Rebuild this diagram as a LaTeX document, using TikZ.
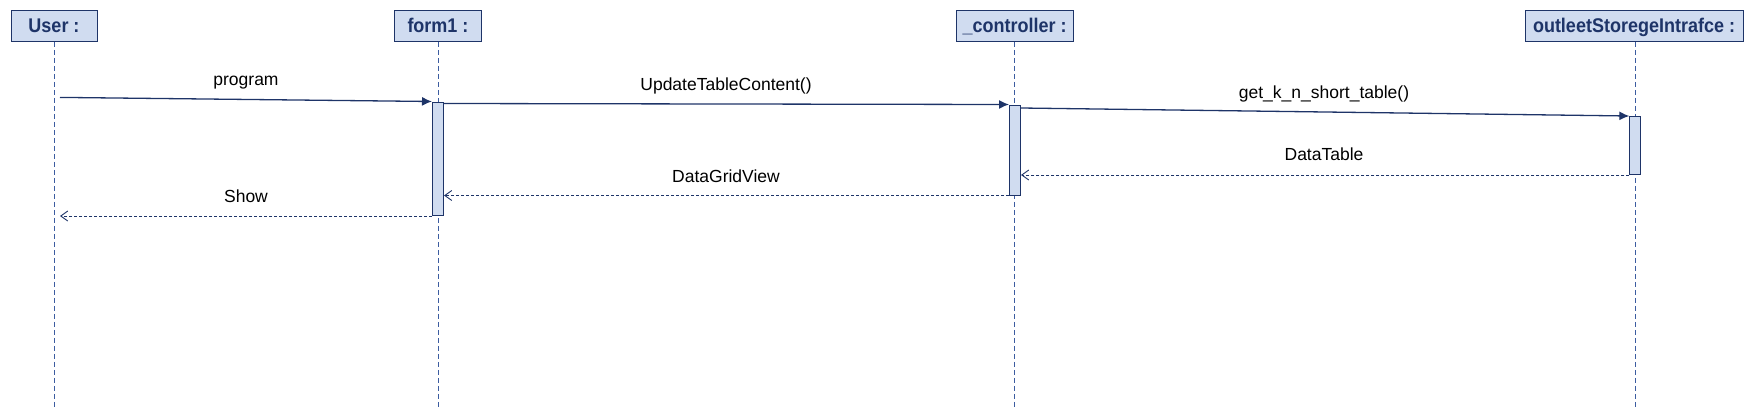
\documentclass[tikz,border=0pt]{standalone}
\usepackage{fontspec}
\usepackage{graphicx}
\setmainfont{Liberation Sans}
\usetikzlibrary{arrows.meta,calc}
\definecolor{boxfill}{RGB}{208,220,240}
\definecolor{navy}{RGB}{30,52,104}
\definecolor{lifeblue}{RGB}{60,92,160}
\newcommand{\hdrtext}[1]{\scalebox{1}[1.1]{#1}}
\begin{document}
\begin{tikzpicture}[x=1pt,y=-1pt,
 objbox/.style={draw=navy, fill=boxfill, line width=1pt, minimum height=31pt, inner sep=0pt,
   font=\fontsize{18}{20}\selectfont\bfseries, text=navy, text height=14.2pt, text depth=0pt},
 actbox/.style={draw=navy, fill=boxfill, line width=1pt, minimum width=11pt, inner sep=0pt},
 lifeline/.style={draw=lifeblue, line width=0.9pt, dash pattern=on 5pt off 3pt},
 callmsg/.style={draw=navy, line width=1.3pt, -{Latex[length=10pt,width=9pt]}},
 retmsg/.style={draw=navy, line width=0.9pt, dash pattern=on 3pt off 2pt, -{Straight Barb[length=7pt,width=10pt]}},
 msglabel/.style={font=\fontsize{17.5}{20}\selectfont, anchor=base, inner sep=0pt, text=black}]
\useasboundingbox (0,0) rectangle (1755,420);

% object boxes
\node[objbox, minimum width=86pt]  (user)  at (54,25.8)    {\hdrtext{User :}};
\node[objbox, minimum width=87pt]  (form)  at (438,25.8)   {\hdrtext{form1 :}};
\node[objbox, minimum width=117pt] (ctrl)  at (1014.5,25.8) {\hdrtext{\_controller :}};
\node[objbox, minimum width=218pt] (store) at (1634,25.8)  {\hdrtext{outleetStoregeIntrafce :}};

% lifeline ends
\coordinate (userend)  at (54,408.5);
\coordinate (formend)  at (438,408.5);
\coordinate (ctrlend)  at (1014.5,408.5);
\coordinate (storeend) at (1635,408.5);
\draw[lifeline] (user.south)  -- (userend);
\draw[lifeline] (form.south)  -- (formend);
\draw[lifeline] (ctrl.south)  -- (ctrlend);
\draw[lifeline] (store.south -| storeend) -- (storeend);

% activations
\node[actbox, minimum height=113.5pt] (act1) at (438,158.75) {};
\node[actbox, minimum height=90pt]    (act2) at (1015,150)   {};
\node[actbox, minimum height=58pt]    (act3) at (1635.3,145.5) {};

% messages
\coordinate (ustart) at (60,97.4);
\coordinate (uend)   at (60,216);
\draw[callmsg] (ustart) -- (act1.north west);
\draw[callmsg] ($(act1.north east)+(0,2)$) -- (act2.north west);
\draw[callmsg] ($(act2.north east)+(0,3.5)$) -- (act3.north west);
\draw[retmsg] (act3.south west) -- (act3.south west -| act2.east);
\draw[retmsg] (act2.south west) -- (act2.south west -| act1.east);
\draw[retmsg] (act1.south west) -- (act1.south west -| uend);

% labels
\node[msglabel] (lprog) at (246,85)    {program};
\node[msglabel] (lupd)  at (726,90.5)  {UpdateTableContent()};
\node[msglabel] (lget)  at (1324,98)   {get\_k\_n\_short\_table()};
\node[msglabel] (ldt)   at (1324,160.5) {DataTable};
\node[msglabel] (ldgv)  at (726,182)   {DataGridView};
\node[msglabel] (lshow) at (246,202)   {Show};
\end{tikzpicture}
\end{document}
